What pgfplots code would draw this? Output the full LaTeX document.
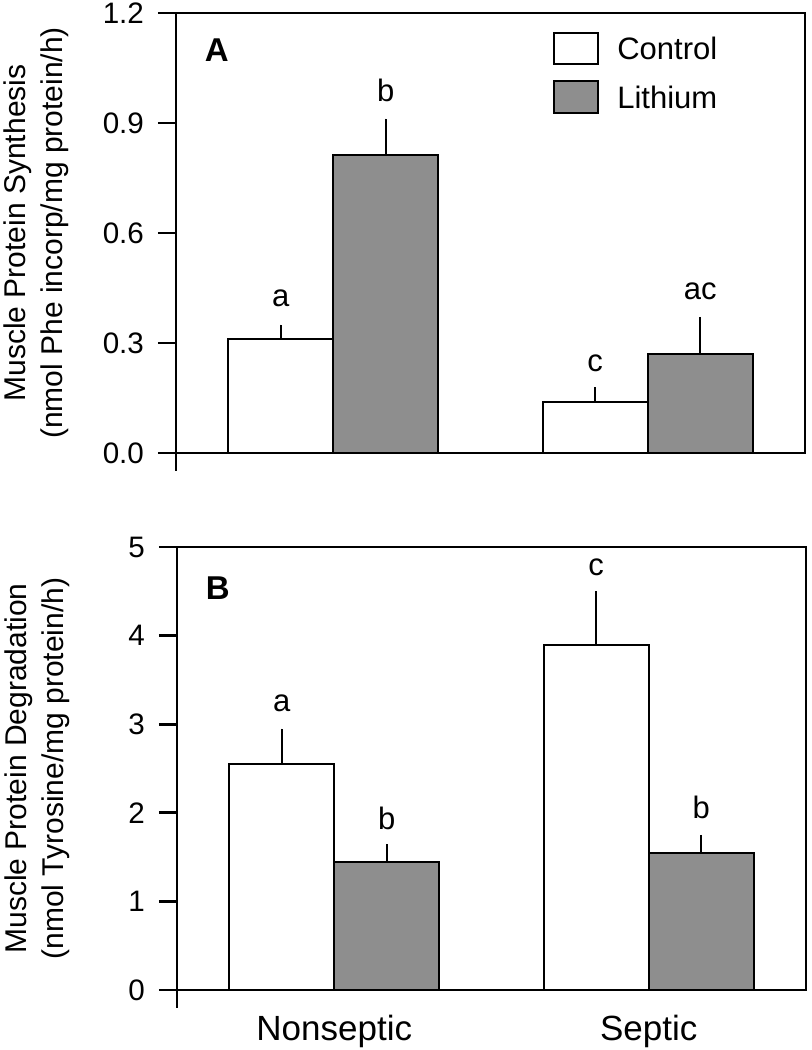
\documentclass[border=0pt]{standalone}
\usepackage{fontspec}
\setmainfont{Liberation Sans}
\usepackage{pgfplots}
\usepackage{pgfplotstable}
\pgfplotsset{compat=1.18}
\definecolor{barGray}{RGB}{142,142,142}

% Panel A: protein synthesis
\pgfplotstableread{
x      y     e
-0.167 0.31  0.04
0.833  0.14  0.04
}\synCtrl
\pgfplotstableread{
x      y     e
0.167  0.812 0.10
1.167  0.271 0.10
}\synLi
% Panel B: protein degradation
\pgfplotstableread{
x      y     e
-0.167 2.55  0.40
0.833  3.89  0.61
}\degCtrl
\pgfplotstableread{
x      y     e
0.167  1.44  0.21
1.167  1.55  0.20
}\degLi

\tikzset{letter/.style={font=\fontsize{15.5}{18}\selectfont}}
\pgfplotsset{
  panel/.style={
    scale only axis, width=314.5pt,
    xmin=-0.5, xmax=1.5,
    clip=false,
    axis line style={line width=1.35pt},
    ytick pos=left, tick align=outside, major tick length=9pt,
    ytick style={line width=1.35pt, black},
    xtick style={draw=none},
    yticklabel style={font=\fontsize{14.8}{17}\selectfont, xshift=-3.5pt},
    /pgf/number format/assume math mode=true,
    ylabel style={align=center, font=\fontsize{15}{18.5}\selectfont,
      at={(rel axis cs:-0.275,0.5)}, anchor=north, inner sep=0pt},
  },
  mybar/.style={ybar, bar width=0.334, bar shift=0pt, draw=black, line width=1pt,
    error bars/y dir=plus, error bars/y explicit, error bars/error mark=none,
    error bars/error bar style={line width=1pt, black}},
}

\begin{document}
\begin{tikzpicture}
\begin{axis}[panel, height=220pt,
  ymin=0, ymax=1.2, ytick={0,0.3,0.6,0.9,1.2},
  yticklabel style={/pgf/number format/fixed, /pgf/number format/fixed zerofill, /pgf/number format/precision=1},
  xtick=\empty,
  ylabel={Muscle Protein Synthesis\\(nmol Phe incorp/mg protein/h)},
]
\addplot[mybar, fill=white] table[x=x, y=y, y error=e] {\synCtrl};
\addplot[mybar, fill=barGray] table[x=x, y=y, y error=e] {\synLi};
\node[letter] at (axis cs:-0.167,0.423) {a};
\node[letter] at (axis cs:0.167,0.989) {b};
\node[letter] at (axis cs:0.833,0.245) {c};
\node[letter] at (axis cs:1.167,0.44) {ac};
\node[font=\bfseries\fontsize{16.5}{19}\selectfont] at (rel axis cs:0.065,0.916) {A};
\draw[line width=1.35pt] (rel axis cs:0,0) -- ([yshift=-9pt]rel axis cs:0,0);
% legend
\draw[line width=1pt, fill=white] (rel axis cs:0.601,0.884) rectangle (rel axis cs:0.671,0.9545);
\draw[line width=1pt, fill=barGray] (rel axis cs:0.601,0.773) rectangle (rel axis cs:0.671,0.845);
\node[anchor=west, inner sep=0pt, font=\fontsize{15.5}{18}\selectfont] at (rel axis cs:0.701,0.919) {Control};
\node[anchor=west, inner sep=0pt, font=\fontsize{15.5}{18}\selectfont] at (rel axis cs:0.701,0.809) {Lithium};
\end{axis}

\begin{axis}[panel, height=221.5pt, at={(0.5pt,-268.5pt)},
  ymin=0, ymax=5, ytick={0,1,2,3,4,5},
  xtick={0,1}, xticklabels={Nonseptic,Septic},
  xticklabel style={font=\fontsize{17.5}{21}\selectfont},
  ylabel={Muscle Protein Degradation\\(nmol Tyrosine/mg protein/h)},
]
\addplot[mybar, fill=white] table[x=x, y=y, y error=e] {\degCtrl};
\addplot[mybar, fill=barGray] table[x=x, y=y, y error=e] {\degLi};
\node[letter] at (axis cs:-0.167,3.24) {a};
\node[letter] at (axis cs:0.167,1.94) {b};
\node[letter] at (axis cs:0.833,4.77) {c};
\node[letter] at (axis cs:1.167,2.06) {b};
\node[font=\bfseries\fontsize{16.5}{19}\selectfont] at (rel axis cs:0.065,0.907) {B};
\draw[line width=1.35pt] (rel axis cs:0,0) -- ([yshift=-9pt]rel axis cs:0,0);
\end{axis}

\pgfresetboundingbox
\path[use as bounding box] (-88pt,226.5pt) rectangle (317.5pt,-298.5pt);
\end{tikzpicture}
\end{document}
